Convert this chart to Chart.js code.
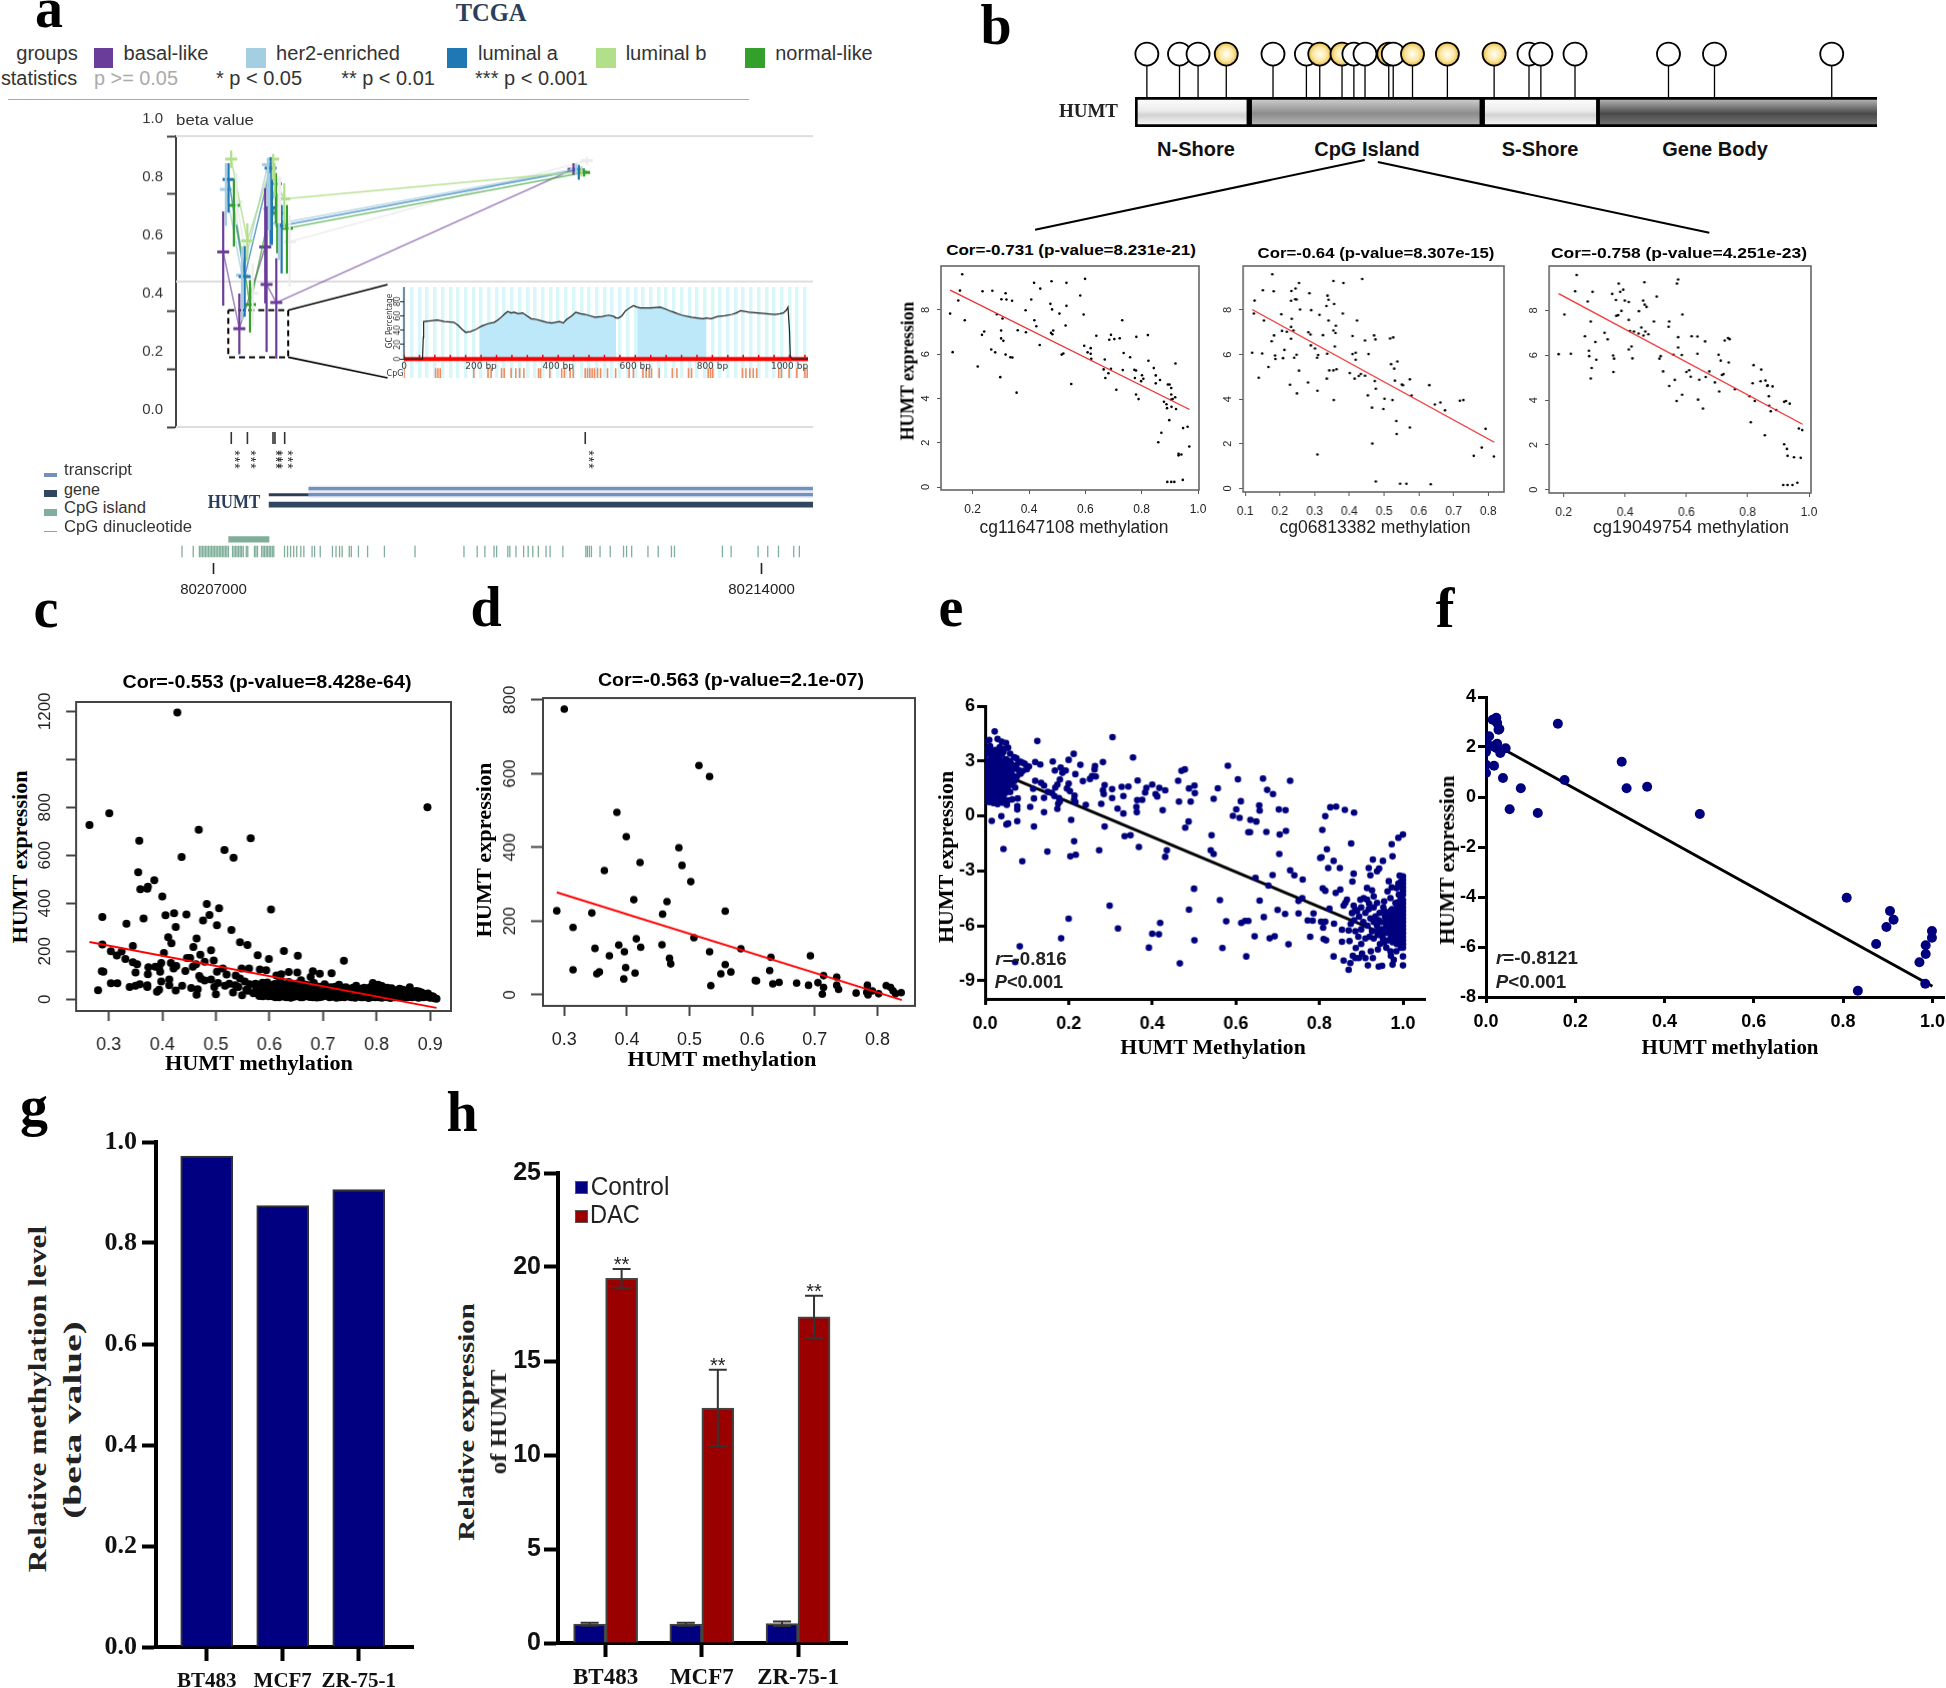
<!DOCTYPE html>
<html>
<head>
<meta charset="utf-8">
<title>HUMT methylation</title>
<script src="https://cdn.jsdelivr.net/npm/chart.js@4/dist/chart.umd.js"></script>
<style>
html, body { margin: 0; background: #fff; }
body { position: relative; width: 1946px; height: 1688px; overflow: hidden; }
canvas { position: absolute; }
</style>
</head>
<body>
<script>
// ---- panel a: beta values per probe and group
const probePos = [80207226, 80207432, 80207763, 80207780, 80207904, 80211700];
const groupOffsets = [-102, -68, -34, 0, 34, 68];
const basalBeta = [.602, .338, .619, .49, .428, .886];
const basalLow = [.417, .25, .425, .258, .235, .867];
const basalHigh = [.741, .459, .821, .758, .58, .907];
const her2Beta = [.817, .522, .902, .75, .7, .887];
const her2Low = [.691, .367, .677, .677, .574, .87];
const her2High = [.907, .62, .924, .873, .763, .905];
const lumABeta = [.851, .517, .89, .754, .692, .884];
const lumALow = [.737, .379, .626, .626, .528, .85];
const lumAHigh = [.907, .622, .928, .85, .763, .901];
const lumBBeta = [.921, .64, .921, .85, .784, .878];
const lumBLow = [.89, .568, .85, .792, .683, .861];
const lumBHigh = [.951, .7, .939, .907, .838, .896];
const normalBeta = [.762, .421, .836, .735, .683, .875];
const normalLow = [.62, .325, .7, .597, .528, .861];
const normalHigh = [.85, .505, .873, .804, .763, .884];
const greyBeta = [.775, .459, .798, .792, .637, .916];
const greyLow = [.695, .344, .7, .7, .482, .901];
const greyHigh = [.873, .563, .861, .86, .729, .928];
const betaTicks = [0, .2, .4, .6, .8, 1];
const coordTicks = [80207000, 80214000];
const probeTicks = [80207227, 80207433, 80207760, 80207785, 80207909, 80211748];
const cpgDinuc = [-402,-259,-180,-161,-141,-122,-102,-83,-63,-44,-24,-5,15,34,54,74,93,113,132,152,171,191,243,262,282,301,321,341,360,380,419,438,523,542,562,614,634,653,673,692,712,731,751,770,907,946,985,1024,1063,1115,1154,1259,1291,1363,1519,1565,1610,1643,1734,1760,1851,1968,2183,2574,3199,3368,3466,3583,3616,3759,3785,3863,3961,4019,4078,4149,4247,4299,4462,4755,4775,4801,4827,4937,5067,5237,5276,5341,5549,5680,5849,5888,6500,6611,6956,7079,7216,7411,7483];

// inset of panel a: GC percentage along the island
const gcCurve = [[0,0],[48,0],[50,30],[51,52],[70,53],[86,54],[105,52],[129,51],[140,47],[151,41],[160,37],[172,38],[186,41],[196,44],[203,46],[218,49],[234,51],[243,54],[252,58],[262,63],[269,66],[278,64],[286,65],[296,63],[308,64],[319,60],[330,56],[343,55],[356,53],[370,51],[383,50],[393,51],[404,52],[413,50],[422,55],[435,60],[446,65],[458,63],[470,62],[483,60],[496,58],[514,59],[531,61],[545,59],[550,57],[557,57],[565,60],[575,67],[585,71],[595,74],[605,72],[613,71],[640,71],[665,72],[680,69],[694,66],[720,61],[746,58],[760,57],[776,56],[784,57],[797,56],[813,59],[832,60],[851,62],[862,64],[873,67],[895,65],[918,64],[940,63],[962,62],[975,63],[984,64],[992,68],[996,72],[1000,40],[1002,4],[1007,0],[1048,0]];
const islandRanges = [[196, 550], [605, 784]];
const gcTicks = [0, 20, 40, 60, 80];
const cpgSites = [0,82,88,94,181,218,226,253,260,278,290,300,311,349,354,378,409,416,431,439,470,476,482,488,494,502,510,528,549,584,595,620,628,636,642,662,696,708,738,746,789,795,801,878,887,897,906,915,972,979,999,1019,1040,1046];
const redMarks = [0,40,80,120,160,200,240,280,320,360,400,440,480,520,560,600,640,680,720,760,800,840,880,920,960,1000,1040];

// ---- panel b: probes along the gene
const probeSites = [1.6,6,8.5,12.3,18.6,23.1,24.9,27.9,29.5,31,34.2,34.8,37.4,42.1,48.4,53.1,54.7,59.3,71.9,78.1,93.9];
const probeHit = [0,0,0,1,0,0,1,1,0,0,1,0,1,1,1,0,0,0,0,0,0];
const regionEdges = [0, 15.4, 46.8, 62.5, 100];
const regionNames = ["N-Shore", "CpG Island", "S-Shore", "Gene Body"];

const b1Points = [[.163,9.61],[.12,7.83],[.129,6.09],[.149,8.42],[.155,8.87],[.172,7.53],[.218,5.44],[.233,6.87],[.241,7.02],[.235,8.84],[.27,8.86],[.266,6.21],[.28,6.08],[.286,7.8],[.302,8.48],[.317,8.75],[.32,8.47],[.34,8.41],[.306,7.61],[.301,7.07],[.301,6.71],[.309,6.6],[.298,4.96],[.317,5.98],[.334,5.86],[.341,5.85],[.356,4.26],[.36,7.08],[.389,6.99],[.388,7.98],[.408,8.47],[.418,9.22],[.44,8.96],[.419,7.53],[.426,7.26],[.438,6.41],[.476,8.27],[.48,9.29],[.482,8.02],[.478,6.96],[.483,6.9],[.486,7.07],[.508,7.83],[.516,5.98],[.522,6.03],[.533,9.22],[.533,8.18],[.53,7.29],[.55,4.65],[.582,8.65],[.594,7.79],[.599,9.4],[.596,6.38],[.608,6.08],[.619,6.27],[.619,6.02],[.621,5.79],[.639,6.83],[.665,5.31],[.669,5.76],[.671,4.92],[.682,5.14],[.685,6.65],[.691,6.87],[.691,5.34],[.703,6.68],[.71,4.39],[.722,6.72],[.731,7.53],[.733,5.28],[.736,6.05],[.759,5.86],[.774,5.29],[.78,5.26],[.776,4.92],[.781,6.78],[.78,4.18],[.789,3.97],[.798,4.78],[.801,5.05],[.806,4.89],[.822,6.86],[.824,5.7],[.843,5.37],[.85,5.04],[.85,4.68],[.865,4.83],[.87,2.45],[.859,2.02],[.879,3.85],[.888,3.74],[.89,3.56],[.893,4.63],[.899,4.63],[.905,4.47],[.905,4.18],[.905,3.95],[.91,3.97],[.906,3.62],[.919,4.05],[.92,5.58],[.922,3.52],[.898,3.02],[.931,1.5],[.931,1.43],[.941,1.47],[.947,2.66],[.963,2.72],[.969,1.83],[.891,.23],[.905,.23],[.916,.23],[.946,.32]];
const b1Fit = [[.12,8.89],[.97,3.5]];
const b2Points = [[.178,9.6],[.12,6.08],[.125,7.84],[.127,8.42],[.139,4.96],[.149,6.05],[.151,8.88],[.154,7.53],[.167,5.44],[.176,6.6],[.182,8.84],[.183,6.86],[.186,5.96],[.187,5.8],[.204,7.81],[.206,7.06],[.209,5.84],[.213,6.21],[.22,7.02],[.229,4.65],[.232,6.71],[.232,7.24],[.233,8.85],[.232,8.41],[.234,7.6],[.239,7.08],[.241,5.86],[.244,8.48],[.245,8.96],[.248,8.47],[.248,5.99],[.249,4.26],[.255,9.21],[.255,5.28],[.258,8.02],[.281,4.75],[.282,7],[.285,8.75],[.288,6.9],[.289,6.41],[.29,7.99],[.301,6.27],[.307,5.86],[.308,4.38],[.308,1.52],[.31,5.98],[.314,7.78],[.324,6.87],[.334,8.18],[.335,4.92],[.337,8.64],[.336,6.04],[.34,7.53],[.34,8.46],[.342,5.29],[.354,5.29],[.355,3.96],[.354,9.3],[.354,7.08],[.356,8.27],[.358,6.36],[.36,6.97],[.361,7.29],[.363,5.34],[.381,7.84],[.383,9.21],[.401,5.17],[.409,6.83],[.409,6.02],[.415,4.92],[.418,6.08],[.418,5.77],[.422,7.53],[.427,5.04],[.433,5.13],[.437,9.39],[.445,5.05],[.445,6.63],[.455,6.02],[.453,4.17],[.465,3.62],[.466,2.01],[.471,6.86],[.473,4.81],[.475,6.68],[.476,4.47],[.476,.31],[.498,3.56],[.501,4.02],[.517,6.72],[.52,5.57],[.524,3.96],[.526,6.77],[.529,5.37],[.531,4.83],[.535,3.02],[.536,2.44],[.538,5.69],[.546,.21],[.551,4.66],[.554,4.63],[.564,.21],[.574,4.89],[.574,2.73],[.579,4.16],[.63,4.63],[.634,.19],[.646,3.76],[.662,3.85],[.675,3.5],[.718,3.93],[.728,3.96],[.758,1.46],[.781,1.83],[.792,2.67],[.816,1.43]];
const b2Fit = [[.12,8.02],[.817,2.07]];
const b3Points = [[.183,6.05],[.202,7.82],[.223,6.07],[.237,8.86],[.242,9.58],[.269,6.85],[.278,8.4],[.282,6.2],[.283,5.96],[.288,7.51],[.291,5.43],[.288,4.96],[.294,8.83],[.303,6.59],[.306,5.8],[.333,7],[.343,6.71],[.358,8.74],[.361,5.99],[.364,5.85],[.362,5.25],[.37,8.47],[.371,7.76],[.377,7.79],[.379,9.2],[.384,8.83],[.388,7.98],[.394,8.93],[.399,8.44],[.412,8.38],[.412,7.58],[.412,6.26],[.416,7.08],[.421,6.39],[.424,5.86],[.429,7.06],[.444,6.97],[.445,7.97],[.453,7.24],[.46,6.88],[.459,8.44],[.463,9.26],[.464,8.26],[.466,7.06],[.47,8.16],[.476,6.94],[.494,7.51],[.503,8.62],[.512,5.85],[.516,5.96],[.524,5.28],[.542,7.27],[.544,7.51],[.544,4.63],[.558,6.02],[.562,4.9],[.568,3.96],[.569,9.2],[.573,9.38],[.573,6.81],[.573,6.35],[.585,6.01],[.587,7.82],[.586,4.24],[.6,5.25],[.609,5.33],[.614,5.04],[.617,6.85],[.636,6.84],[.636,6.07],[.638,4.02],[.642,4.91],[.654,3.62],[.661,6.62],[.663,5.03],[.675,5.28],[.693,4.79],[.705,6.02],[.707,4.38],[.712,5.76],[.716,5.12],[.721,5.16],[.725,6.66],[.736,6.77],[.741,6.72],[.738,5.68],[.758,4.48],[.81,3.01],[.806,4.17],[.816,4.75],[.819,5.56],[.823,3.96],[.842,4.84],[.844,5.36],[.856,2.43],[.858,4.87],[.864,4.63],[.865,4.66],[.869,4.17],[.87,3.75],[.875,3.5],[.881,4.61],[.893,3.56],[.919,3.92],[.925,3.96],[.937,3.84],[.919,2.03],[.928,1.82],[.93,1.51],[.951,1.45],[.973,1.42],[.967,2.73],[.978,2.66],[.916,.21],[.93,.21],[.946,.21],[.962,.31]];
const b3Fit = [[.183,8.75],[.979,2.92]];

// ---- panel c
const cSparse = [[.264,726],[.301,775],[.28,38],[.287,117],[.29,115],[.288,343],[.288,228],[.304,67],[.316,67],[.304,200],[.315,182],[.324,199],[.331,168],[.333,315],[.339,51],[.345,222],[.345,154],[.353,146],[.35,112],[.35,56],[.358,62],[.357,661],[.355,529],[.359,458],[.372,461],[.373,469],[.365,337],[.385,496],[.4,428],[.372,58],[.372,51],[.373,104],[.374,133],[.387,135],[.394,131],[.398,151],[.396,115],[.39,31],[.394,40],[.398,74],[.403,193],[.406,350],[.422,358],[.445,353],[.425,301],[.411,258],[.417,233],[.416,151],[.421,128],[.426,139],[.413,82],[.413,58],[.425,36],[.437,56],[.436,593],[.468,707],[.443,118],[.446,172],[.452,172],[.458,218],[.464,253],[.471,185],[.457,135],[.463,146],[.469,97],[.472,85],[.479,78],[.454,47],[.466,42],[.464,19],[.491,82],[.491,204],[.496,161],[.479,156],[.476,328],[.488,351],[.483,397],[.506,379],[.502,308],[.516,622],[.533,590],[.565,671],[.502,115],[.513,128],[.52,103],[.504,68],[.497,51],[.5,21],[.517,56],[.525,65],[.536,58],[.532,28],[.529,289],[.545,238],[.559,226],[.549,17],[.548,128],[.562,128],[.537,99],[.545,86],[.554,74],[.563,62],[.542,51],[.557,40],[.578,183],[.599,168],[.603,374],[.582,124],[.594,121],[.581,14],[.574,65],[.587,69],[.627,201],[.653,181],[.739,160],[.716,108],[.694,106],[.681,117],[.677,93],[.652,112],[.636,114],[.622,104],[.613,99],[.659,79],[.793,68],[.81,55],[.895,800],[.428,1195]];
const cDense = [[.585,62],[.59,40],[.592,18],[.596,70],[.6,30],[.603,52],[.606,12],[.61,64],[.612,38],[.615,22],[.618,8],[.62,80],[.622,48],[.625,30],[.628,10],[.63,58],[.633,20],[.636,72],[.638,40],[.64,6],[.644,28],[.646,52],[.65,14],[.652,66],[.655,36],[.658,8],[.66,22],[.663,48],[.666,12],[.668,60],[.672,30],[.675,9],[.677,44],[.68,18],[.683,68],[.686,34],[.688,7],[.692,52],[.694,24],[.698,10],[.7,42],[.703,62],[.706,16],[.709,32],[.712,8],[.715,50],[.718,22],[.722,40],[.725,6],[.728,28],[.73,60],[.734,14],[.737,36],[.74,8],[.743,50],[.746,24],[.75,10],[.753,40],[.756,18],[.76,6],[.762,56],[.765,30],[.768,12],[.772,44],[.775,8],[.778,22],[.782,36],[.785,5],[.788,50],[.79,16],[.794,28],[.797,8],[.8,42],[.803,60],[.806,20],[.81,6],[.813,34],[.816,12],[.82,48],[.823,24],[.826,5],[.83,38],[.833,14],[.836,28],[.84,8],[.843,44],[.846,18],[.85,6],[.853,34],[.856,12],[.86,26],[.862,50],[.866,8],[.87,20],[.874,34],[.878,6],[.88,16],[.884,28],[.888,8],[.892,14],[.896,24],[.9,6],[.904,12],[.908,4],[.912,2]];
const cDense2 = [[.56,35],[.57,25],[.575,48],[.58,30],[.588,12],[.595,48],[.598,12],[.602,22],[.605,38],[.608,60],[.611,8],[.614,48],[.617,30],[.62,16],[.623,64],[.626,44],[.629,24],[.632,8],[.635,52],[.637,14],[.64,34],[.643,62],[.646,10],[.648,40],[.651,24],[.654,50],[.657,14],[.659,36],[.662,8],[.665,56],[.667,28],[.67,42],[.673,16],[.676,58],[.678,26],[.681,8],[.684,44],[.687,18],[.69,36],[.693,8],[.696,46],[.699,26],[.702,14],[.705,34],[.708,50],[.711,20],[.714,38],[.717,10],[.72,30],[.723,52],[.726,16],[.729,42],[.732,8],[.735,24],[.738,48],[.741,32],[.744,14],[.747,40],[.75,26],[.753,8],[.756,48],[.759,30],[.762,14],[.765,42],[.768,24],[.771,8],[.774,34],[.777,48],[.78,14],[.783,26],[.786,42],[.789,8],[.792,32],[.795,18],[.798,50],[.801,28],[.804,8],[.807,40],[.81,20],[.813,48],[.816,28],[.819,8],[.822,36],[.825,16],[.828,46],[.831,26],[.834,8],[.837,38],[.84,20],[.843,30],[.846,8],[.849,40],[.852,20],[.855,30],[.858,8],[.861,38],[.864,18],[.867,28],[.87,10],[.873,24],[.876,14],[.879,32],[.882,8],[.885,20],[.89,22],[.894,10],[.898,16],[.902,8],[.906,10]];
const cFit = [[.264,239],[.912,-36]];

// ---- panel d
const dPoints = [[.288,228],[.3,775],[.314,183],[.314,68],[.344,222],[.349,126],[.352,57],[.356,62],[.364,337],[.372,106],[.384,495],[.387,135],[.395,43],[.396,117],[.399,429],[.398,74],[.411,258],[.413,59],[.415,152],[.421,359],[.422,129],[.456,136],[.457,219],[.464,253],[.468,99],[.47,84],[.483,399],[.488,351],[.502,307],[.507,155],[.515,622],[.532,592],[.532,117],[.534,25],[.55,57],[.557,82],[.557,227],[.566,62],[.582,125],[.605,39],[.607,38],[.628,66],[.63,102],[.633,30],[.643,34],[.671,32],[.69,26],[.693,106],[.705,33],[.714,52],[.714,20],[.712,2],[.735,48],[.735,26],[.738,15],[.766,5],[.783,7],[.784,26],[.785,0],[.792,11],[.802,3],[.814,25],[.821,20],[.825,11],[.829,3],[.838,6]];
const dFit = [[.288,278],[.839,-14]];

// ---- panel e
const eLeftCluster = [[.002,4.1],[.01,4.15],[.023,4.61],[.03,4.2],[.04,4.05],[.05,3.98],[.003,3.7],[.012,3.8],[.025,3.6],[.035,3.75],[.045,3.65],[.055,3.72],[.06,3.4],[.07,3.2],[.075,3.15],[0,3.3],[.008,3.4],[.018,3.3],[.03,3.25],[.04,3.35],[.05,3.1],[.06,3],[.08,2.9],[.085,2.95],[.09,2.9],[.095,2.85],[.1,2.7],[.105,2.7],[.002,2.9],[.012,2.95],[.022,2.85],[.032,2.9],[.042,2.7],[.052,2.8],[.07,2.6],[.08,2.5],[.09,2.45],[.1,2.55],[0,2.5],[.006,2.55],[.016,2.45],[.026,2.5],[.036,2.4],[.046,2.3],[.056,2.35],[.066,2.2],[.076,2.15],[.085,2.3],[0,2.1],[.01,2.15],[.02,2.05],[.03,2.1],[.04,2],[.05,1.95],[.06,1.85],[.07,1.9],[.002,1.75],[.012,1.8],[.022,1.7],[.032,1.65],[.042,1.75],[.052,1.6],[.062,1.7],[.072,1.55],[0,1.4],[.008,1.45],[.018,1.35],[.028,1.4],[.038,1.3],[.048,1.25],[.06,1.3],[.003,1.05],[.013,1.1],[.023,1],[.033,.95],[.043,.9],[.055,.85],[.065,.9],[.078,.95],[0,.8],[.01,.75],[.02,.7],[.03,.65],[.042,.72],[.052,.6],[.004,3],[.014,3.1],[.024,3.05],[.034,3.1],[.044,3],[.054,2.95],[.064,2.8],[.074,2.75],[.004,2.7],[.014,2.7],[.024,2.65],[.034,2.7],[.044,2.55],[.054,2.55],[.064,2.5],[.004,2.3],[.014,2.35],[.024,2.3],[.034,2.25],[.044,2.15],[.054,2.15],[.064,2],[.004,1.95],[.014,1.95],[.024,1.9],[.034,1.85],[.044,1.85],[.054,1.8],[.004,1.6],[.014,1.6],[.024,1.5],[.034,1.5],[.044,1.5],[.054,1.45],[.004,1.25],[.014,1.25],[.024,1.2],[.034,1.15],[.044,1.1],[.006,.95],[.016,.92],[.028,.85],[.004,3.55],[.014,3.55],[.024,3.45],[.034,3.5],[.044,3.5]];
const eMiddle = [[.125,4.09],[.305,4.3],[.354,3.19],[.581,2.74],[.605,2],[.665,2.04],[.73,1.92],[.675,1.42],[.689,1.19],[.656,.57],[.657,.29],[.601,.36],[.612,.8],[.593,0],[.609,-.11],[.635,-.22],[.649,-.31],[.703,.35],[.719,.31],[.826,.47],[.84,.51],[.861,.33],[.883,.18],[.814,-.02],[.807,-.77],[.72,-.82],[.705,-1.02],[.673,-.88],[.63,-.89],[.634,-.89],[.542,-1.06],[.479,-.64],[.487,-.31],[.12,2.94],[.132,2.81],[.162,2.97],[.167,2.48],[.181,2.64],[.185,2.35],[.193,2.48],[.2,3.06],[.212,3.39],[.228,2.79],[.216,2.28],[.263,2.72],[.262,2.54],[.282,2.94],[.234,1.9],[.251,2.02],[.256,2.17],[.265,2.15],[.179,1.99],[.173,1.71],[.168,1.55],[.12,1.92],[.134,1.81],[.141,1.66],[.115,1.48],[.15,1.31],[.16,1.26],[.166,1.08],[.177,.97],[.179,.8],[.175,.67],[.2,1.77],[.196,1.5],[.203,1.35],[.214,1.11],[.213,.89],[.216,.75],[.241,.6],[.278,.66],[.284,1.19],[.282,1.4],[.286,1.68],[.304,1.46],[.304,.97],[.327,1.59],[.331,1.08],[.343,1.6],[.317,.4],[.331,.13],[.365,1.93],[.386,1.53],[.383,1.28],[.4,1.71],[.417,1.53],[.431,1.4],[.408,1.19],[.412,1.06],[.364,.86],[.376,.88],[.362,.49],[.363,.2],[.425,.31],[.462,1.92],[.47,2.46],[.478,2.54],[.488,1.5],[.501,1.66],[.502,1.24],[.492,.78],[.464,.78],[.557,1.51],[.547,.93],[.016,-.27],[.039,-.02],[.055,-.42],[.051,-.47],[.077,-.29],[.117,-.58],[.141,.2],[.108,.49],[.077,.35],[.077,.53],[.117,.95],[.141,.98],[.173,.38],[.206,-.22],[.286,-.58],[.334,-1.11],[.348,-1.06],[.368,-1.7],[.435,-1.88],[.431,-2.24],[.54,-1.88],[.547,-2.08],[.704,-2.08],[.044,-1.81],[.089,-2.48],[.149,-1.95],[.213,-1.39],[.204,-2.21],[.217,-2.12],[.273,-1.88],[.73,-2.97],[.74,-3.25],[.76,-3.48],[.688,-3.23],[.647,-3.39],[.678,-3.81],[.802,-2.3],[.805,-2.26],[.818,-1.82],[.834,-2.46],[.821,-2.85],[.849,-2.85],[.876,-1.51],[.882,-3.16],[.879,-3.59],[.808,-3.96],[.814,-4.09],[.839,-4.21],[.85,-4.03],[.918,-2.85],[.922,-3.25],[.928,-2.39],[.938,-3.03],[.943,-2.88],[.952,-2.46],[.973,-1.55],[.975,-2.21],[.989,-1.2],[1,-1.02],[.5,-3.98],[.562,-4.6],[.657,-4.63],[.298,-4.91],[.488,-5.12],[.2,-5.62],[.318,-6.15],[.419,-5.85],[.4,-6.44],[.416,-6.47],[.392,-7.2],[.466,-8.06],[.501,-6.8],[.182,-6.69],[.083,-7.13],[.072,-7.99],[.568,-7.22],[.577,-5.76],[.613,-5.85],[.622,-5.74],[.63,-5.74],[.625,-7.68],[.645,-6.58],[.667,-5.53],[.681,-6.69],[.693,-6.58],[.7,-5.14],[.718,-5.36],[.726,-7.02],[.75,-4.65],[.759,-4.49],[.75,-5.33],[.786,-5.33],[.772,-5.71],[.784,-5.73],[.778,-6.6],[.804,-5.78],[.814,-5.78],[.809,-6.11],[.835,-5.89],[.81,-6.73],[.816,-6.8],[.824,-5.07],[.854,-6.22],[.854,-6.88],[.872,-6.84],[.834,-7.68],[.87,-6.26]];
const eRightCluster = [[1,-3.3],[1,-3.5],[1,-3.7],[1,-3.9],[1,-4.1],[1,-4.3],[1,-4.6],[1,-4.8],[1,-5],[1,-5.2],[1,-5.4],[1,-5.6],[1,-5.8],[1,-6],[1,-6.2],[1,-6.4],[1,-6.6],[1,-6.8],[1,-7],[1,-7.2],[1,-7.68],[1,-8.17],[.866,-4.58],[.862,-4.76],[.858,-4.9],[.882,-4.9],[.886,-5.12],[.878,-5.31],[.898,-4.58],[.906,-4.49],[.914,-4.58],[.919,-4.8],[.93,-4.4],[.938,-4.76],[.955,-4.67],[.914,-3.94],[.926,-4.07],[.966,-3.57],[.973,-3.9],[.963,-4.12],[.97,-4.49],[.989,-3.7],[.992,-3.26],[.982,-4.76],[.986,-4.95],[.89,-5.2],[.895,-5.5],[.9,-5],[.905,-5.8],[.91,-5.3],[.915,-6],[.918,-5.1],[.922,-5.6],[.926,-6.3],[.93,-5],[.934,-5.5],[.938,-6],[.94,-6.5],[.944,-5.3],[.948,-5.8],[.95,-6.2],[.953,-5],[.957,-5.5],[.96,-6],[.962,-6.4],[.965,-5.3],[.968,-5.7],[.97,-6.1],[.972,-6.6],[.974,-5.1],[.976,-5.5],[.978,-5.9],[.98,-6.3],[.982,-6.7],[.984,-5.3],[.986,-5.7],[.988,-6.1],[.99,-6.5],[.992,-5],[.994,-5.5],[.996,-6],[.998,-6.4],[.99,-4.7],[.985,-7],[.975,-6.9],[.965,-6.8],[.955,-6.9],[.945,-7],[.93,-6.7],[.92,-6.6],[.91,-6.7],[.9,-6.2],[.893,-6.6],[.886,-6.3],[.883,-5.7],[.875,-5.9],[.9,-7],[.94,-7.3],[.96,-7.2],[.97,-7.4],[.87,-8.41],[.874,-8.04],[.858,-7.9],[.88,-7.64],[.886,-7.77],[.894,-7.77],[.902,-7.53],[.91,-7.77],[.916,-8.17],[.928,-7.77],[.942,-8.23],[.95,-8.19],[.971,-7.64],[.978,-7.86],[.975,-8.13],[.984,-7.4],[.887,-7.22],[.923,-7.4],[.955,-5.2],[.958,-5.8],[.962,-6.1],[.966,-5.5],[.97,-5.2],[.973,-5.9],[.975,-6.3],[.977,-5.3],[.979,-5.7],[.981,-6.1],[.983,-6.5],[.985,-5.1],[.987,-5.5],[.989,-5.9],[.991,-6.3],[.993,-6.7],[.995,-5.2],[.997,-5.7],[.999,-6.1],[.93,-5.8],[.936,-6.3],[.942,-5.7],[.947,-6.5],[.952,-6.7],[.99,-7],[.995,-7.2],[.99,-4.3],[.995,-4.5],[.985,-3.95],[.995,-3.6]];
const eFit = [[0,2.68],[.958,-6.49]];

// ---- panel f
const fPoints = [[.015,3.09],[.023,3.17],[.025,2.96],[.028,2.69],[.03,2.72],[.007,2.43],[.001,2.23],[.001,2.03],[0,1.8],[.015,2.03],[.025,2.13],[.023,1.96],[.044,1.95],[.032,1.76],[0,1.29],[0,.96],[.018,1.25],[.038,.76],[.053,-.49],[.078,.35],[.116,-.64],[.161,2.93],[.176,.68],[.304,1.41],[.315,.35],[.361,.41],[.479,-.68],[.808,-4.03],[.833,-7.75],[.874,-5.88],[.897,-5.2],[.905,-4.56],[.913,-4.91],[.971,-6.61],[.985,-5.93],[.985,-6.28],[.984,-7.47],[.999,-5.36],[.999,-5.63]];
const fFit = [[.02,2.1],[1,-7.57]];

// ---- panels g and h
const cellLines = ["BT483", "MCF7", "ZR-75-1"];
const betaLevel = [.972, .874, .906];
const controlExpr = [1, 1, 1.03];
const controlErr = [.08, .08, .12];
const dacExpr = [19.4, 12.5, 17.35];
const dacErr = [.5, 2.03, 1.12];

// ---- drawing helpers
const SERIF = '"Liberation Serif", serif';
const SANS = '"Liberation Sans", sans-serif';

function label(text, cx, cy, o = {}) {
    const d = document.createElement("div");
    if (o.html) d.innerHTML = text; else d.textContent = text;
    d.style.cssText = `position:absolute;left:${cx}px;top:${cy}px;white-space:nowrap;font:${o.font || "18px " + SANS};line-height:${o.lh || 1};letter-spacing:${o.ls || 0}px;color:${o.color || "#000"}`;
    document.body.appendChild(d);
    const sx = o.w ? o.w / d.offsetWidth : 1;
    d.style.transform = `translate(-50%,-50%) rotate(${o.rot || 0}deg) scaleX(${sx})`;
}
// bold panel letter, tight line box so it can sit against the page edge
function panelLetter(ch, cx, cy) {
    label(ch, cx, cy, { font: "bold 56px " + SERIF, lh: .3 });
}

function rule(x1, y1, x2, y2, color, w) {
    const d = document.createElement("div");
    const len = Math.hypot(x2 - x1, y2 - y1);
    const ang = Math.atan2(y2 - y1, x2 - x1) * 180 / Math.PI;
    d.style.cssText = `position:absolute;left:${x1}px;top:${y1}px;width:${len}px;height:${w}px;background:${color};transform-origin:0 0;transform:rotate(${ang}deg)`;
    document.body.appendChild(d);
}

function swatch(x0, y0, x1, y1, color, border) {
    const d = document.createElement("div");
    d.style.cssText = `position:absolute;left:${x0}px;top:${y0}px;width:${x1 - x0}px;height:${y1 - y0}px;background:${color};box-sizing:border-box;${border ? "border:1.5px solid " + border : ""}`;
    document.body.appendChild(d);
}

// Error bars on any dataset that carries errLow / errHigh
const errBars = {
    id: "errBars",
    afterDatasetsDraw(chart) {
        const ctx = chart.ctx, y = chart.scales.y;
        chart.data.datasets.forEach((ds, i) => {
            if (!ds.errLow) return;
            const meta = chart.getDatasetMeta(i);
            ctx.save();
            ctx.strokeStyle = ds.errColor;
            ctx.lineWidth = ds.errWidth || 2;
            meta.data.forEach((el, k) => {
                const hi = y.getPixelForValue(ds.errHigh[k]), lo = y.getPixelForValue(ds.errLow[k]);
                const cap = ds.errCap || 0;
                ctx.beginPath();
                ctx.moveTo(el.x, lo); ctx.lineTo(el.x, hi);
                if (cap) {
                    ctx.moveTo(el.x - cap, lo); ctx.lineTo(el.x + cap, lo);
                    ctx.moveTo(el.x - cap, hi); ctx.lineTo(el.x + cap, hi);
                }
                ctx.stroke();
                if (ds.errText) {
                    ctx.fillStyle = "#222";
                    ctx.font = "20px " + SANS;
                    ctx.textAlign = "center";
                    ctx.textBaseline = "middle";
                    ctx.fillText(ds.errText, el.x, hi - 3);
                }
            });
            ctx.restore();
        });
    }
};

// R style rotated y tick labels
const rotTicks = {
    id: "rotTicks",
    afterDraw(chart, args, opts) {
        if (!opts.off) return;
        const ctx = chart.ctx, s = chart.scales.y;
        ctx.save();
        ctx.fillStyle = opts.color || "#222";
        ctx.font = opts.font;
        ctx.textAlign = "center";
        ctx.textBaseline = "middle";
        s.ticks.forEach(t => {
            if (!t.label) return;
            ctx.save();
            ctx.translate(s.left + s.width - opts.off, s.getPixelForValue(t.value));
            ctx.rotate(-Math.PI / 2);
            ctx.fillText(String(t.label), 0, 0);
            ctx.restore();
        });
        ctx.restore();
    }
};

// x tick labels drawn inside the plot, at a given y value (GC inset)
const innerXLabels = {
    id: "innerXLabels",
    afterDraw(chart, args, opts) {
        if (opts.at === undefined) return;
        const ctx = chart.ctx, s = chart.scales.x, y = chart.scales.y.getPixelForValue(opts.at);
        ctx.save();
        ctx.fillStyle = opts.color;
        ctx.font = opts.font;
        ctx.textAlign = "center";
        ctx.textBaseline = "middle";
        s.ticks.forEach(t => {
            if (t.label) ctx.fillText(String(t.label), s.getPixelForValue(t.value), y);
        });
        ctx.restore();
    }
};

const frame = {
    id: "frame",
    afterDatasetsDraw(chart, args, opts) {
        if (!opts.color) return;
        const a = chart.chartArea, ctx = chart.ctx;
        ctx.save();
        ctx.strokeStyle = opts.color;
        ctx.lineWidth = opts.width;
        ctx.strokeRect(a.left, a.top, a.right - a.left, a.bottom - a.top);
        ctx.restore();
    }
};
Chart.register(errBars, rotTicks, innerXLabels, frame);

// Put a chart so that its plot area lands on the given box
function addChart(box, m, config) {
    const [x0, y0, x1, y1] = box;
    const c = document.createElement("canvas");
    const w = x1 - x0 + m.l + m.r, h = y1 - y0 + m.t + m.b;
    c.width = w; c.height = h;
    c.style.left = (x0 - m.l) + "px";
    c.style.top = (y0 - m.t) + "px";
    c.style.width = w + "px";
    c.style.height = h + "px";
    document.body.appendChild(c);
    const o = config.options;
    o.responsive = false;
    o.animation = false;
    const xHidden = o.scales.x.display === false, yHidden = o.scales.y.display === false;
    o.layout = { autoPadding: false, padding: { top: m.t, right: m.r, left: yHidden ? m.l : 0, bottom: xHidden ? m.b : 0 } };
    // tick labels must not push the plot area away from the box
    if (!xHidden) o.scales.x.afterFit = s => { s.height = m.b; s.paddingLeft = 0; s.paddingRight = 0; };
    if (!yHidden) o.scales.y.afterFit = s => { s.width = m.l; s.paddingTop = 0; s.paddingBottom = 0; };
    o.plugins = Object.assign({ legend: { display: false }, tooltip: { enabled: false } }, o.plugins || {});
    return new Chart(c, config);
}

function axis(min, max, ticks, o = {}) {
    return {
        type: "linear", min, max, reverse: !!o.reverse, offset: false,
        afterBuildTicks: s => { s.ticks = ticks.map(v => ({ value: v })); },
        ticks: {
            autoSkip: false, maxRotation: 0, minRotation: 0, display: o.hideLabels ? false : true,
            font: o.font, color: o.color || "#222", padding: o.padding === undefined ? 4 : o.padding,
            labelOffset: o.labelOffset || 0,
            callback: o.fmt || (v => String(v))
        },
        grid: {
            offset: false, drawOnChartArea: !!o.gridOn, drawTicks: o.tick !== 0, tickLength: o.tick === undefined ? 6 : o.tick,
            tickWidth: o.tickWidth || 2, tickColor: o.tickColor || "#444",
            color: o.gridColor, lineWidth: o.gridWidth || 1
        },
        border: { display: !!o.border, width: o.border || 0, color: o.borderColor || "#000" }
    };
}
const hidden = { type: "linear", display: false };
const fixed1 = v => v.toFixed(1);

function dots(pts, r, color) {
    return { data: pts, showLine: false, pointRadius: r, pointBackgroundColor: color, pointBorderWidth: 0, pointHoverRadius: r };
}
function fitLine(pts, color, w) {
    return { data: pts, showLine: true, pointRadius: 0, borderColor: color, borderWidth: w, tension: 0, clip: false };
}

// ---- panel a, legend block
const legendGroups = [
    ["basal-like", 93.6, 113, 165.6, 84.4, "#6a3d9a"],
    ["her2-enriched", 246, 266, 338.4, 123.4, "#a6cee3"],
    ["luminal a", 447, 467, 517.5, 79.8, "#1f78b4"],
    ["luminal b", 596, 616, 666.4, 80.7, "#b2df8a"],
    ["normal-like", 744.5, 765, 823.8, 97.6, "#33a02c"]
];
panelLetter("a", 49, 8);
label("TCGA", 491, 13.4, { font: "bold 26px " + SERIF, color: "#2c3e5c", w: 70.6 });
label("groups", 47, 52.8, { font: "20px " + SANS, color: "#333", w: 61.5 });
label("statistics", 39, 77.7, { font: "20px " + SANS, color: "#333", w: 76.5 });
legendGroups.forEach(g => {
    swatch(g[1], 48, g[2], 68, g[5]);
    label(g[0], g[3], 52.8, { font: "20px " + SANS, color: "#333", w: g[4] });
});
label("p >= 0.05", 135.8, 77.7, { font: "20px " + SANS, color: "#aaa", w: 84.4 });
label("* p < 0.05", 259, 77.7, { font: "20px " + SANS, color: "#333", w: 86 });
label("** p < 0.01", 387.8, 77.7, { font: "20px " + SANS, color: "#333", w: 93.6 });
label("*** p < 0.001", 531.5, 77.7, { font: "20px " + SANS, color: "#333", w: 113 });
rule(8, 98.5, 749, 98.5, "#aaa", 1.5);

// ---- panel a, beta value plot
const xMin = 80206521, xMax = 80214657;
function groupSet(beta, low, high, color, lineColor, offset) {
    return {
        data: beta.map((y, i) => ({ x: probePos[i] + offset, y })),
        showLine: true, tension: 0, clip: false,
        borderColor: lineColor, borderWidth: 1.6,
        pointStyle: "line", pointRadius: 6, pointBorderColor: color, pointBorderWidth: 3,
        errLow: low, errHigh: high, errColor: color, errWidth: 2.2
    };
}
const betaSets = [
    groupSet(greyBeta, greyLow, greyHigh, "#ececec", "#eeeeee", groupOffsets[5]),
    groupSet(basalBeta, basalLow, basalHigh, "#6a3d9a", "#6a3d9a99", groupOffsets[0]),
    groupSet(her2Beta, her2Low, her2High, "#a6cee3", "#a6cee3bb", groupOffsets[1]),
    groupSet(lumABeta, lumALow, lumAHigh, "#1f78b4", "#1f78b4aa", groupOffsets[2]),
    groupSet(lumBBeta, lumBLow, lumBHigh, "#b2df8a", "#b2df8acc", groupOffsets[3]),
    groupSet(normalBeta, normalLow, normalHigh, "#33a02c", "#33a02caa", groupOffsets[4])
].reverse();
const refLines = [0, .5, 1].map(v => fitLine([[xMin, v], [xMax, v]], "#ddd", 2));
const zoomBox = Object.assign(fitLine([[80207189, .402], [80207954, .402], [80207954, .24], [80207189, .24], [80207189, .402]], "#000", 2), { borderDash: [6, 4] });
addChart([175.7, 136.2, 813.5, 427], { l: 40, t: 30, r: 5, b: 3 }, {
    type: "scatter",
    data: {
        datasets: [
            zoomBox,
            fitLine([[80207954, .402], [80209223, .49]], "#000", 1.6),
            fitLine([[80207954, .24], [80209223, .169]], "#000", 1.6),
            ...betaSets,
            ...refLines
        ]
    },
    options: {
        scales: {
            x: Object.assign({}, hidden, { min: xMin, max: xMax }),
            y: axis(0, 1, betaTicks, { fmt: fixed1, font: { size: 15, family: "Liberation Sans" }, color: "#333", padding: 4, labelOffset: -17, tick: 9, border: 2, borderColor: "#444" })
        }
    }
});
label("beta value", 214.5, 118.6, { font: "15px " + SANS, color: "#333", w: 77.5 });

// ---- panel a, GC percentage inset
const stripeTicks = Array.from({ length: 53 }, (_, i) => i * 20);
const inIsland = r => gcCurve.filter(p => p[0] >= r[0] && p[0] <= r[1]);
const islandFill = r => ({ data: inIsland(r), showLine: true, tension: 0, pointRadius: 0, borderWidth: 0, fill: "origin", backgroundColor: "#bce8fa" });
addChart([403.6, 287.3, 808, 378], { l: 18, t: 5, r: 5, b: 4 }, {
    type: "scatter",
    data: {
        datasets: [
            fitLine(gcCurve, "#222", 1.2),
            fitLine([[0, 0], [0, 100]], "#222", 1),
            Object.assign(dots(redMarks.map(x => [x, 1.5]), 3, "#f00"), { pointStyle: "line", pointRotation: 90, pointBorderColor: "#f00", pointBorderWidth: 1.5 }),
            fitLine([[0, 0], [1048, 0]], "#f00", 4),
            Object.assign(dots(cpgSites.map(x => [x, -21.3]), 6, "#f28b60"), { pointStyle: "line", pointRotation: 90, pointBorderColor: "#f28b60", pointBorderWidth: 1.6 }),
            islandFill(islandRanges[0]),
            islandFill(islandRanges[1])
        ]
    },
    options: {
        scales: {
            x: axis(0, 1048, stripeTicks, {
                fmt: v => v === 0 ? "0" : (v % 200 === 0 ? v + " bp" : ""),
                hideLabels: true, tick: 0,
                gridOn: true, gridColor: "#d9f6f9", gridWidth: 3.5
            }),
            y: axis(-26.5, 100, gcTicks, { hideLabels: true, tick: 4, tickWidth: 1, tickColor: "#222" })
        },
        plugins: {
            rotTicks: { off: 6, font: "8px DejaVu Sans", color: "#333" },
            innerXLabels: { at: -10.6, font: "9px DejaVu Sans", color: "#333" }
        }
    }
});
label("GC Percentage", 390, 320.7, { font: "8px DejaVu Sans", color: "#333", rot: -90, w: 54 });
label("CpG", 395, 374.3, { font: "8px DejaVu Sans", color: "#333" });

// ---- panel a, gene tracks below the plot (y counts rows down from the plot)
const row = { probe: 8, transcript: 58.7, exon: 64.7, gene: 74.7, island: 109.3, dinuc: 121.5 };
const transcriptStart = 80208214, geneStart = 80207706;
const vMarks = (xs, y, r, color, w) => Object.assign(dots(xs.map(x => [x, y]), r, color), { pointStyle: "line", pointRotation: 90, pointBorderColor: color, pointBorderWidth: w, clip: false });
addChart([175.7, 430, 813.5, 563], { l: 5, t: 2, r: 40, b: 32 }, {
    type: "scatter",
    data: {
        datasets: [
            vMarks(probeTicks, row.probe, 6, "#333", 1.6),
            vMarks(cpgDinuc.map(d => 80207000 + d), row.dinuc, 5.8, "#7fae9a", 1.3),
            fitLine([[80207189, row.island], [80207713, row.island]], "#7fae9a", 6.3),
            fitLine([[geneStart, row.gene], [xMax, row.gene]], "#2f4560", 5.7),
            fitLine([[geneStart, row.exon], [transcriptStart, row.exon]], "#2b3f5a", 3),
            fitLine([[transcriptStart, row.exon], [xMax, row.exon]], "#7490bd", 3.2),
            fitLine([[transcriptStart, row.transcript], [xMax, row.transcript]], "#7490bd", 3.2),
            fitLine([[transcriptStart, row.exon], [xMax, row.exon]], "#dfe6f2", 6),
            fitLine([[transcriptStart, row.transcript], [xMax, row.transcript]], "#dfe6f2", 6)
        ]
    },
    options: {
        scales: {
            x: axis(xMin, xMax, coordTicks, { font: { size: 15, family: "Liberation Sans" }, color: "#222", padding: 7, tick: 11, tickWidth: 1.6, tickColor: "#222" }),
            y: { type: "linear", display: false, min: 0, max: 133, reverse: true }
        }
    }
});
[234.6, 251, 276, 277.5, 287.6, 588.7].forEach(x => label("***", x, 460, { font: "14px " + SANS, color: "#333", rot: 90, ls: 1 }));
[["transcript", 98, 469.3, 68, 472.5, 476.5, "#7490bd"],
 ["gene", 82, 488.7, 36, 490, 496.5, "#2f4560"],
 ["CpG island", 105, 506.7, 82, 509, 515.5, "#7fae9a"],
 ["CpG dinucleotide", 127.8, 526, 127.7, 530.5, 532, "#7fae9a"]].forEach(t => {
    swatch(43.8, t[4], 57, t[5], t[6]);
    label(t[0], t[1], t[2], { font: "17px " + SANS, color: "#333", w: t[3] });
});
label("HUMT", 234.3, 501.3, { font: "bold 19px " + SERIF, color: "#2c3e5c", w: 52.6 });

// ---- panel b, lollipops and gene structure
panelLetter("b", 996, 25);
const stems = probeSites.flatMap(x => [{ x, y: 0 }, { x, y: .78 }, { x: NaN, y: NaN }]);
addChart([1135, 42, 1877, 97], { l: 5, t: 20, r: 5, b: 2 }, {
    type: "scatter",
    data: {
        datasets: [
            {
                data: probeSites.map(x => ({ x, y: .78 })),
                showLine: false, pointRadius: 11.5, pointBorderColor: "#000", pointBorderWidth: 1.8, clip: false,
                pointBackgroundColor: c => {
                    if (c.dataIndex === undefined || !probeHit[c.dataIndex] || !c.parsed) return "#fff";
                    const px = c.chart.scales.x.getPixelForValue(c.parsed.x);
                    const py = c.chart.scales.y.getPixelForValue(c.parsed.y);
                    if (!isFinite(px) || !isFinite(py)) return "#fbe7a2";
                    const g = c.chart.ctx.createRadialGradient(px, py, 1, px, py, 12);
                    g.addColorStop(0, "#fffbe8");
                    g.addColorStop(.55, "#fbe7a2");
                    g.addColorStop(1, "#e6b53a");
                    return g;
                }
            },
            fitLine(stems, "#000", 1.3)
        ]
    },
    options: { scales: { x: Object.assign({}, hidden, { min: 0, max: 100 }), y: Object.assign({}, hidden, { min: 0, max: 1 }) } }
});
const regionStops = [
    [[0, "#ffffff"], [.45, "#ececec"], [.6, "#d2d2d2"], [1, "#ffffff"]],
    [[0, "#d6d6d6"], [.55, "#8c8c8c"], [1, "#bdbdbd"]],
    [[0, "#ffffff"], [.45, "#ececec"], [.6, "#d2d2d2"], [1, "#ffffff"]],
    [[0, "#c6c6c6"], [.55, "#4a4a4a"], [1, "#7a7a7a"]]
];
addChart([1135, 97, 1877, 127], { l: 90, t: 3, r: 5, b: 3 }, {
    type: "bar",
    data: {
        labels: ["HUMT"],
        datasets: regionNames.map((name, i) => ({
            label: name,
            data: [[regionEdges[i], regionEdges[i + 1]]],
            borderColor: "#000",
            borderSkipped: false,
            borderWidth: i === 3 ? { top: 3, bottom: 3, left: 1.5, right: 0 } : 3,
            backgroundColor: c => {
                const a = c.chart.chartArea;
                if (!a) return "#ccc";
                const g = c.chart.ctx.createLinearGradient(0, a.top, 0, a.bottom);
                regionStops[i].forEach(s => g.addColorStop(s[0], s[1]));
                return g;
            },
            barPercentage: 1, categoryPercentage: 1, grouped: false
        }))
    },
    options: {
        indexAxis: "y",
        scales: {
            x: Object.assign({}, hidden, { min: 0, max: 100 }),
            y: { type: "category", offset: true, grid: { display: false }, border: { display: false }, ticks: { padding: 9, color: "#222", font: { size: 19, weight: "bold", family: "Liberation Serif" } } }
        }
    }
});
[1196, 1367, 1540, 1715].forEach((x, i) => label(regionNames[i], x, 149, { font: "bold 20px " + SANS, color: "#111" }));
rule(1364.7, 160.7, 1035, 230.4, "#000", 2.4);
rule(1378.3, 160.7, 1709.4, 231.4, "#000", 2.4);

// ---- panel b, three probe scatter plots
const tenths = [.2, .4, .6, .8, 1];
function probePlot(box, pts, fit, xr, yr, xTicks) {
    addChart(box, { l: 30, t: 8, r: 15, b: 30 }, {
        type: "scatter",
        data: { datasets: [fitLine(fit, "#f03030", 1.3), dots(pts, 1.3, "#000")] },
        options: {
            scales: {
                x: axis(xr[0], xr[1], xTicks, { fmt: fixed1, font: { size: 12, family: "Liberation Sans" }, padding: 8, tick: 4, tickWidth: 1, tickColor: "#555" }),
                y: axis(yr[0], yr[1], [0, 2, 4, 6, 8], { hideLabels: true, tick: 4, tickWidth: 1, tickColor: "#555" })
            },
            plugins: { rotTicks: { off: 15.5, font: "11px Liberation Sans" }, frame: { color: "#666", width: 1.6 } }
        }
    });
}
probePlot([940.7, 265.7, 1198.7, 490], b1Points, b1Fit, [.0876, 1.0035], [-.135, 9.98], tenths);
probePlot([1243.3, 265.7, 1503.7, 492.3], b2Points, b2Fit, [.094, .845], [-.16, 9.97], [.1, .2, .3, .4, .5, .6, .7, .8]);
probePlot([1549, 265.7, 1810.7, 493.3], b3Points, b3Fit, [.152, 1.0065], [-.148, 9.985], tenths);
label("Cor=-0.731 (p-value=8.231e-21)", 1071, 249, { font: "bold 15px " + SANS, w: 249.5 });
label("Cor=-0.64 (p-value=8.307e-15)", 1375.6, 252, { font: "bold 15px " + SANS, w: 237 });
label("Cor=-0.758 (p-value=4.251e-23)", 1679, 252, { font: "bold 15px " + SANS, w: 256 });
label("cg11647108 methylation", 1074.4, 526.8, { font: "18px " + SANS, color: "#222", w: 189 });
label("cg06813382 methylation", 1375, 526.8, { font: "18px " + SANS, color: "#222", w: 191 });
label("cg19049754 methylation", 1691, 526.8, { font: "18px " + SANS, color: "#222", w: 196 });
label("HUMT expression", 907, 371.4, { font: "bold 19px " + SERIF, rot: -90, w: 139 });

// ---- panel c
panelLetter("c", 46, 608);
addChart([76.3, 701.7, 450.7, 1010.7], { l: 40, t: 15, r: 20, b: 42 }, {
    type: "scatter",
    data: { datasets: [fitLine(cFit, "#f00", 2), dots(cSparse, 4, "#000"), dots(cDense, 4, "#000"), dots(cDense2, 4, "#000")] },
    options: {
        scales: {
            x: axis(.239, .939, [.3, .4, .5, .6, .7, .8, .9], { fmt: fixed1, font: { size: 18, family: "Liberation Sans" }, padding: 13, tick: 10 }),
            y: axis(-49, 1239, [0, 200, 400, 600, 800, 1000, 1200], { hideLabels: true, tick: 10, fmt: v => v === 1000 ? "" : String(v) })
        },
        plugins: { rotTicks: { off: 30.5, font: "17px Liberation Sans" }, frame: { color: "#444", width: 2 } }
    }
});
label("Cor=-0.553 (p-value=8.428e-64)", 267, 681.7, { font: "bold 18px " + SANS, w: 289 });
label("HUMT methylation", 259, 1063, { font: "bold 22px " + SERIF, w: 188 });
label("HUMT expression", 20, 857, { font: "bold 22px " + SERIF, rot: -90, w: 173 });

// ---- panel d
panelLetter("d", 486, 607);
addChart([543.4, 698.3, 915.5, 1006], { l: 40, t: 15, r: 15, b: 45 }, {
    type: "scatter",
    data: { datasets: [fitLine(dFit, "#f00", 2), dots(dPoints, 3.8, "#000")] },
    options: {
        scales: {
            x: axis(.266, .86, [.3, .4, .5, .6, .7, .8], { fmt: fixed1, font: { size: 18, family: "Liberation Sans" }, padding: 13, tick: 10 }),
            y: axis(-30, 805, [0, 200, 400, 600, 800], { hideLabels: true, tick: 12 })
        },
        plugins: { rotTicks: { off: 32.8, font: "17px Liberation Sans" }, frame: { color: "#444", width: 2 } }
    }
});
label("Cor=-0.563 (p-value=2.1e-07)", 730.6, 680, { font: "bold 18px " + SANS, w: 266 });
label("HUMT methylation", 722, 1059, { font: "bold 22px " + SERIF, w: 189 });
label("HUMT expression", 484, 850, { font: "bold 22px " + SERIF, rot: -90, w: 175 });

// ---- panels e and f, GraphPad style
const NAVY = "#00007f";
function padAxes(xr, xTicks, yr, yTicks) {
    const font = { size: 18, weight: "bold", family: "Liberation Sans" };
    return {
        x: axis(xr[0], xr[1], xTicks, { fmt: fixed1, font, color: "#000", padding: 8, tick: 6, tickWidth: 3, tickColor: "#000", border: 3 }),
        y: axis(yr[0], yr[1], yTicks, { font, color: "#000", padding: 2, tick: 8, tickWidth: 3, tickColor: "#000", border: 3 })
    };
}
const unitTicks = [0, .2, .4, .6, .8, 1];
panelLetter("e", 951, 607);
addChart([985.4, 706.3, 1425, 998.6], { l: 40, t: 12, r: 20, b: 40 }, {
    type: "scatter",
    data: { datasets: [dots(eRightCluster, 3.3, NAVY), dots(eMiddle, 3.3, NAVY), dots(eLeftCluster, 3.3, NAVY), fitLine(eFit, "#000", 3)] },
    options: { scales: padAxes([0, 1.0527], unitTicks, [-10, 6], [-9, -6, -3, 0, 3, 6]) }
});
label("HUMT Methylation", 1213, 1047, { font: "bold 22px " + SERIF, w: 185 });
label("HUMT expression", 946, 857, { font: "bold 22px " + SERIF, rot: -90, w: 172 });
label("<i>r</i>=-0.816", 1030.5, 958, { html: true, font: "bold 19px " + SANS, color: "#222", w: 71 });
label("<i>P</i>&lt;0.001", 1029, 980.5, { html: true, font: "bold 19px " + SANS, color: "#222", w: 68 });

panelLetter("f", 1445, 608);
addChart([1486, 697.3, 1944, 997.3], { l: 40, t: 12, r: 20, b: 40 }, {
    type: "scatter",
    data: { datasets: [dots(fPoints, 5, NAVY), fitLine(fFit, "#000", 3)] },
    options: { scales: padAxes([0, 1.026], unitTicks, [-8, 4], [-8, -6, -4, -2, 0, 2, 4]) }
});
label("HUMT methylation", 1729.6, 1047, { font: "bold 22px " + SERIF, w: 177 });
label("HUMT expression", 1447, 860, { font: "bold 22px " + SERIF, rot: -90, w: 169 });
label("<i>r</i>=-0.8121", 1537, 957, { html: true, font: "bold 19px " + SANS, color: "#222", w: 82 });
label("<i>P</i>&lt;0.001", 1531, 980.5, { html: true, font: "bold 19px " + SANS, color: "#222", w: 70 });

// ---- panel g
panelLetter("g", 34, 1106);
const gX = axis(-.667, 2.714, [0, 1, 2], { fmt: v => cellLines[v], font: { size: 21, weight: "bold", family: "Liberation Serif" }, color: "#111", padding: 8, tick: 14, tickWidth: 4, tickColor: "#000", border: 4 });
addChart([156, 1141.5, 413, 1646.8], { l: 60, t: 20, r: 10, b: 41 }, {
    type: "bar",
    data: {
        datasets: [{
            data: betaLevel.map((y, i) => ({ x: i, y })),
            backgroundColor: "#000080", borderColor: "#333", borderWidth: 2, barThickness: 52
        }]
    },
    options: {
        scales: {
            x: gX,
            y: axis(0, 1, [0, .2, .4, .6, .8, 1], { fmt: fixed1, font: { size: 26, weight: "bold", family: "Liberation Serif" }, color: "#111", padding: 5, tick: 14, tickWidth: 4, tickColor: "#000", border: 4 })
        }
    }
});
label("Relative methylation level", 37, 1399, { font: "bold 25px " + SERIF, color: "#222", rot: -90, w: 346 });
label("(beta value)", 72, 1420, { font: "bold 25px " + SERIF, color: "#222", rot: -90, w: 198 });

// ---- panel h
panelLetter("h", 462, 1112);
addChart([558, 1173, 847, 1643], { l: 50, t: 20, r: 10, b: 45 }, {
    type: "bar",
    data: {
        datasets: [
            {
                label: "Control",
                data: controlExpr.map((y, i) => ({ x: i, y })),
                backgroundColor: "#000080", borderColor: "#444", borderWidth: 2, barThickness: 32,
                errLow: controlExpr.map((v, i) => v - controlErr[i]), errHigh: controlExpr.map((v, i) => v + controlErr[i]),
                errColor: "#333", errCap: 9, errWidth: 2
            },
            {
                label: "DAC",
                data: dacExpr.map((y, i) => ({ x: i, y })),
                backgroundColor: "#9b0000", borderColor: "#444", borderWidth: 2, barThickness: 32,
                errLow: dacExpr.map((v, i) => v - dacErr[i]), errHigh: dacExpr.map((v, i) => v + dacErr[i]),
                errColor: "#333", errCap: 9, errWidth: 2, errText: "**"
            }
        ]
    },
    options: {
        scales: {
            x: axis(-.495, 2.509, [0, 1, 2], { fmt: v => cellLines[v], font: { size: 23, weight: "bold", family: "Liberation Serif" }, color: "#111", padding: 7, tick: 14, tickWidth: 4, tickColor: "#000", border: 4 }),
            y: axis(0, 25, [0, 5, 10, 15, 20, 25], { font: { size: 25, weight: "bold", family: "Liberation Sans" }, color: "#111", padding: 3, tick: 14, tickWidth: 4, tickColor: "#000", border: 4 })
        }
    }
});
swatch(575, 1181, 588, 1194, "#000080", "#555");
swatch(575, 1210, 588, 1223, "#9b0000", "#555");
label("Control", 629.5, 1186, { font: "25px " + SANS, color: "#222", w: 79 });
label("DAC", 615, 1214, { font: "25px " + SANS, color: "#222", w: 50 });
label("Relative expression", 466, 1422, { font: "bold 24px " + SERIF, color: "#222", rot: -90, w: 238 });
label("of HUMT", 498, 1422, { font: "bold 24px " + SERIF, color: "#222", rot: -90, w: 105 });
</script>
</body>
</html>
